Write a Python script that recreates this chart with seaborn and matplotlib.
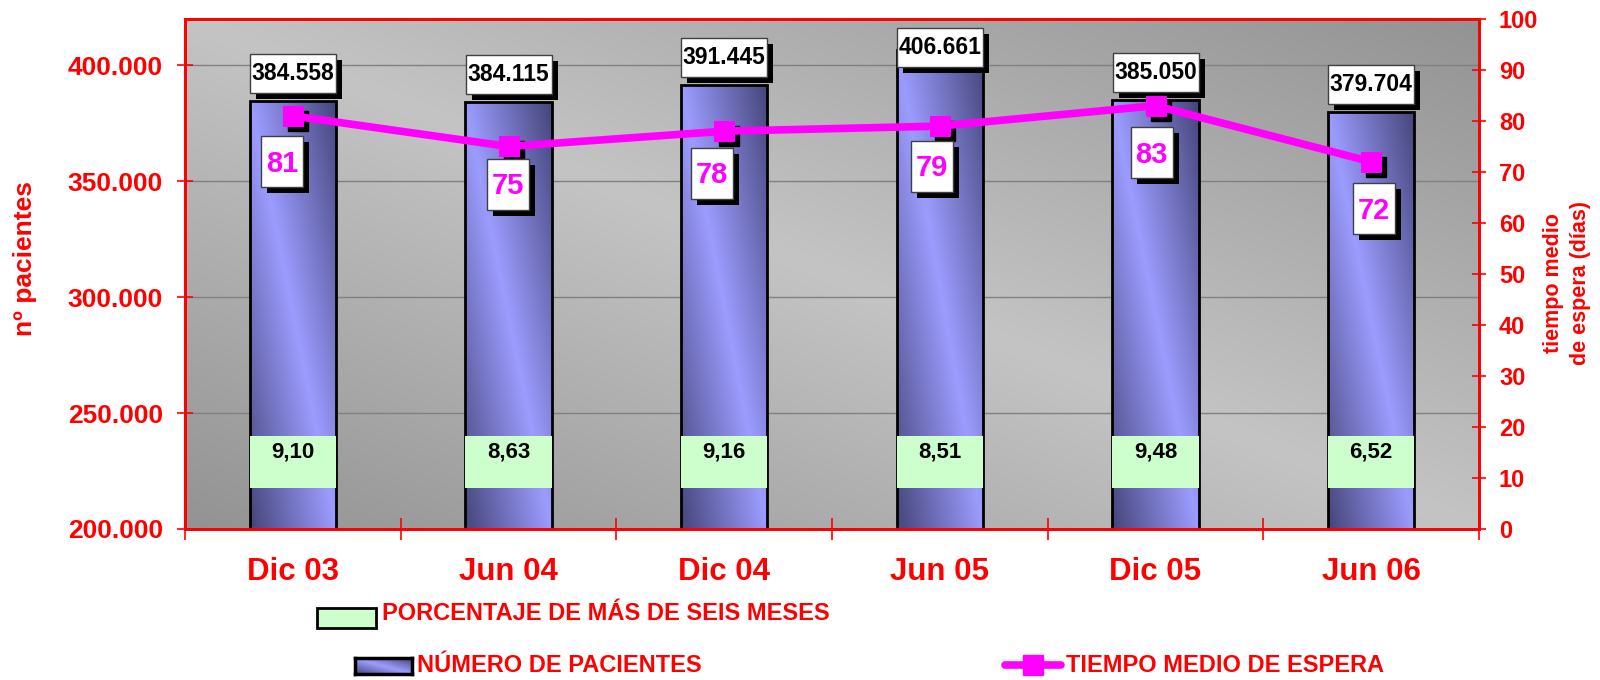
import numpy as np
import pandas as pd
import matplotlib
matplotlib.use('Agg')
import matplotlib.pyplot as plt
import matplotlib.transforms as mtransforms
from matplotlib.colors import LinearSegmentedColormap
from matplotlib.patches import Rectangle
from matplotlib.lines import Line2D
import seaborn as sns

# datos
periodos = ['Dic 03', 'Jun 04', 'Dic 04', 'Jun 05', 'Dic 05', 'Jun 06']
pacientes = [384558, 384115, 391445, 406661, 385050, 379704]
tiempo_espera = [81, 75, 78, 79, 83, 72]
pct_seis_meses = [9.10, 8.63, 9.16, 8.51, 9.48, 6.52]

# desplazamiento (px) de las etiquetas del tiempo de espera respecto al marcador
etiq_dx = [-11, -1, -12, -8, -4, 3]
etiq_dy = [46, 38, 42, 40, 47, 47]

Y_MIN, Y_MAX = 200000, 420000
ROJO = '#ff0000'
MAGENTA = '#ff00ff'

sns.set_theme(style='white')
plt.rcParams['font.family'] = ['Liberation Sans', 'DejaVu Sans']
plt.rcParams['font.weight'] = 'bold'

fig = plt.figure(figsize=(16, 6.8), dpi=100)
ax = fig.add_axes([185 / 1600, 1 - 529 / 680, 1294 / 1600, 510 / 680])


def degradado(n=200):
    u = np.linspace(0, 1, n)
    U, V = np.meshgrid(u, u)
    return np.abs(U + V - 1)


def caja(eje, x, y, ancho, alto, dx=0, dy=0, sombra=6, z=6):
    # caja blanca con sombra negra, medidas en píxeles, anclada a un punto de datos
    t = mtransforms.IdentityTransform() + mtransforms.ScaledTranslation(x, y, eje.transData)
    eje.add_patch(Rectangle((dx - ancho / 2 + sombra, dy - alto / 2 - sombra), ancho, alto,
                            transform=t, fc='black', ec='none', zorder=z))
    eje.add_patch(Rectangle((dx - ancho / 2, dy - alto / 2), ancho, alto,
                            transform=t, fc='white', ec='#404040', lw=1, zorder=z + 0.1))


g = degradado()

# fondo gris en diagonal
cmap_fondo = LinearSegmentedColormap.from_list('fondo', ['#c4c4c4', '#939393'])
ax.imshow(g, cmap=cmap_fondo, origin='lower', extent=(0, 1, 0, 1),
          transform=ax.transAxes, aspect='auto', zorder=0, interpolation='bilinear')

# barras
sns.barplot(x=periodos, y=pacientes, ax=ax, width=0.4, color='#9999ff',
            edgecolor='black', linewidth=2, zorder=3)
cmap_barra = LinearSegmentedColormap.from_list('barra', ['#9c9cff', '#45457a'])
for barra in list(ax.patches):
    x0, w, h = barra.get_x(), barra.get_width(), barra.get_height()
    barra.set_facecolor('none')
    im = ax.imshow(g, cmap=cmap_barra, origin='lower', extent=(x0, x0 + w, Y_MIN, h),
                   aspect='auto', zorder=2.5, interpolation='bilinear')
    im.set_clip_path(barra)

ax.set_axisbelow(True)
ax.grid(axis='y', color='#808080', lw=1)
ax.grid(axis='x', visible=False)
ax.set_ylim(Y_MIN, Y_MAX)
ax.set_yticks(range(200000, 400001, 50000))
ax.set_yticklabels([f'{v:,}'.replace(',', '.') for v in range(200000, 400001, 50000)])
ax.set_xlabel('')
ax.set_ylabel('')
ax.set_xlim(-0.5, len(periodos) - 0.5)

# etiquetas de número de pacientes
for i, v in enumerate(pacientes):
    y = min(v + 12000, 407500)
    caja(ax, i, y, 86, 39)
    ax.text(i, y, f'{v:,}'.replace(',', '.'), ha='center', va='center', fontsize=16.5,
            color='black', zorder=7)

# etiquetas del porcentaje de más de seis meses
mezcla = mtransforms.blended_transform_factory(ax.transData, ax.transAxes)
for i, p in enumerate(pct_seis_meses):
    ax.add_patch(Rectangle((i - 0.2, 0.0804), 0.4, 0.102, transform=mezcla,
                           fc='#ccffcc', ec='none', zorder=5))
    ax.text(i, 0.151, f'{p:.2f}'.replace('.', ','), transform=mezcla, ha='center',
            va='center', fontsize=16, color='black', zorder=6)

# eje secundario: tiempo medio de espera
ax2 = ax.twinx()
df = pd.DataFrame({'pos': np.arange(len(periodos)), 'dias': tiempo_espera})
sombra2 = mtransforms.offset_copy(ax2.transData, fig=fig, x=5, y=-5, units='dots')
ax2.plot(df['pos'], df['dias'], 's', color='black', ms=14, transform=sombra2, zorder=3)
sns.lineplot(data=df, x='pos', y='dias', ax=ax2, color=MAGENTA, lw=5.5, marker='s',
             ms=14, mec=MAGENTA, mfc=MAGENTA, zorder=4)
ax2.set_ylim(0, 100)
ax2.set_yticks(range(0, 101, 10))
ax2.set_xlabel('')
ax2.set_ylabel('')
ax.set_xlim(-0.5, len(periodos) - 0.5)

for i, v in enumerate(tiempo_espera):
    caja(ax2, i, v, 42, 51, dx=etiq_dx[i], dy=-etiq_dy[i])
    t_txt = mtransforms.offset_copy(ax2.transData, fig=fig, x=etiq_dx[i],
                                    y=-etiq_dy[i] - 2, units='dots')
    ax2.text(i, v, str(v), transform=t_txt, ha='center', va='center', fontsize=21,
             color=MAGENTA, zorder=7)

# ejes y marcas
for a in (ax, ax2):
    for s in a.spines.values():
        s.set_color(ROJO)
        s.set_linewidth(2)
        s.set_visible(True)

ax.set_xticks(np.arange(len(periodos)))
ax.set_xticklabels(periodos)
ax.set_xticks(np.arange(-0.5, len(periodos), 1), minor=True)
ax.tick_params(axis='x', which='major', length=0, pad=20, labelsize=22.5, labelcolor=ROJO)
ax.tick_params(axis='x', which='minor', direction='inout', length=15.8, width=1.2,
               color=ROJO, bottom=True)
ax.tick_params(axis='y', direction='inout', length=12.2, width=1.2, color=ROJO,
               labelsize=19, labelcolor=ROJO, pad=9.7, left=True)
ax2.tick_params(axis='y', direction='inout', length=10, width=1.2, color=ROJO,
                labelsize=17, labelcolor=ROJO, pad=9.4, right=True)

# títulos de los ejes
fig.text(25 / 1600, 1 - 259 / 680, 'nº pacientes', rotation=90, ha='center', va='center',
         fontsize=19, color=ROJO)
fig.text(1567 / 1600, 1 - 283 / 680, 'tiempo medio\nde espera (días)', rotation=90,
         ha='center', va='center', fontsize=15.5, color=ROJO, multialignment='center',
         linespacing=1.35)

# leyenda
fig.add_artist(Rectangle((317 / 1600, 1 - 628 / 680), 59 / 1600, 20 / 680,
                         transform=fig.transFigure, fc='#ccffcc', ec='black', lw=2))
fig.text(382 / 1600, 1 - 614 / 680, 'PORCENTAJE DE MÁS DE SEIS MESES', ha='left',
         va='center', fontsize=17, color=ROJO)

ax_ley = fig.add_axes([355 / 1600, 1 - 674 / 680, 57 / 1600, 16 / 680])
ax_ley.imshow(g, cmap=cmap_barra, origin='lower', aspect='auto', extent=(0, 1, 0, 1),
              interpolation='bilinear')
ax_ley.set_xticks([])
ax_ley.set_yticks([])
for s in ax_ley.spines.values():
    s.set_color('black')
    s.set_linewidth(2.5)
fig.text(417 / 1600, 1 - 666 / 680, 'NÚMERO DE PACIENTES', ha='left', va='center',
         fontsize=17, color=ROJO)

fig.add_artist(Line2D([1005 / 1600, 1061 / 1600], [1 - 665 / 680, 1 - 665 / 680],
                      transform=fig.transFigure, color=MAGENTA, lw=5.5))
fig.add_artist(Line2D([1033 / 1600], [1 - 665 / 680], transform=fig.transFigure,
                      color=MAGENTA, marker='s', ms=14))
fig.text(1066 / 1600, 1 - 665 / 680, 'TIEMPO MEDIO DE ESPERA', ha='left', va='center',
         fontsize=17, color=ROJO)

fig.savefig('out.png', dpi=100)
